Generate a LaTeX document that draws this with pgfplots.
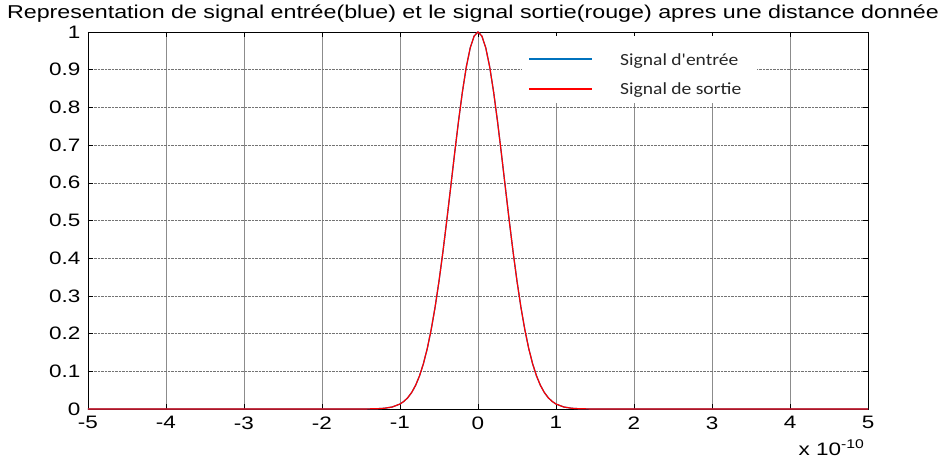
\documentclass[border=0pt]{standalone}
\usepackage{pgfplots}
\pgfplotsset{compat=1.18}
\usepackage{pgfplotstable}
\usepackage{fontspec}
\setmainfont{Liberation Sans}[FakeStretch=1.25]
\newfontfamily\legfont{Carlito}[FakeStretch=1.15]
\definecolor{mblue}{rgb}{0,0.447,0.741}

\pgfplotstableread{
t y
-5 0
-1.5 0
-1.3 0.0007
-1.2 0.0020
-1.1 0.0053
-1.0 0.0132
-0.95 0.0202
-0.9 0.0301
-0.85 0.0439
-0.8 0.0628
-0.75 0.0878
-0.7 0.1201
-0.65 0.1608
-0.6 0.2108
-0.55 0.2703
-0.5 0.3391
-0.45 0.4165
-0.4 0.5006
-0.35 0.5887
-0.3 0.6776
-0.25 0.7632
-0.2 0.8411
-0.15 0.9073
-0.1 0.9577
-0.05 0.9892
0 1
0.05 0.9892
0.1 0.9577
0.15 0.9073
0.2 0.8411
0.25 0.7632
0.3 0.6776
0.35 0.5887
0.4 0.5006
0.45 0.4165
0.5 0.3391
0.55 0.2703
0.6 0.2108
0.65 0.1608
0.7 0.1201
0.75 0.0878
0.8 0.0628
0.85 0.0439
0.9 0.0301
0.95 0.0202
1.0 0.0132
1.1 0.0053
1.2 0.0020
1.3 0.0007
1.5 0
5 0
}\pulse

\begin{document}
\begin{tikzpicture}
\begin{axis}[
  scale only axis, width=780pt, height=377pt,
  xmin=-5, xmax=5, ymin=0, ymax=1,
  clip=false,
  xtick={-5,-4,-3,-2,-1,0,1,2,3,4,5},
  xticklabels={-5,-4,-3,-2,-1,0,1,2,3,4,5},
  ytick={0,0.1,0.2,0.3,0.4,0.5,0.6,0.7,0.8,0.9,1},
  yticklabels={0,0.1,0.2,0.3,0.4,0.5,0.6,0.7,0.8,0.9,1},
  tick align=inside, major tick length=5pt,
  tick style={black, line width=0.6pt},
  tick label style={font=\fontsize{18}{20}\selectfont},
  xticklabel style={yshift=-4pt},
  yticklabel style={xshift=-4pt},
  xmajorgrids, ymajorgrids,
  x grid style={black!45, line width=0.8pt},
  y grid style={black!55, densely dotted, line width=0.6pt},
  axis line style={black, line width=0.8pt},
]
\addplot[color=mblue, line width=1.2pt] table[x=t,y=y] {\pulse};
\addplot[color=red, line width=1.2pt] table[x=t,y=y] {\pulse};
% legend box (decoration)
\fill[white] (axis cs:0.564,0.812) rectangle (axis cs:3.577,0.989);
\draw[mblue, line width=1.3pt] (axis cs:0.654,0.928) -- (axis cs:1.462,0.928);
\draw[red, line width=1.3pt] (axis cs:0.654,0.849) -- (axis cs:1.462,0.849);
\node[anchor=west, inner sep=0pt, text=black!85, font=\legfont\fontsize{17}{20}\selectfont] at (axis cs:1.821,0.924) {Signal d'entrée};
\node[anchor=west, inner sep=0pt, text=black!85, font=\legfont\fontsize{17}{20}\selectfont] at (axis cs:1.821,0.845) {Signal de sortie};
\node[anchor=base, font=\fontsize{18.6}{22}\selectfont] at (rel axis cs:0.5,1) [xshift=-5pt, yshift=13pt] {Representation de signal entrée(blue) et le signal sortie(rouge) apres une distance donnée};
\node[anchor=base east, font=\fontsize{18}{20}\selectfont] at (rel axis cs:1,0) [yshift=-46pt] {x 10\textsuperscript{-10}};
\end{axis}
\pgfresetboundingbox
\path[use as bounding box] ([shift={(-88pt,-52pt)}]current axis.south west) rectangle ([shift={(79pt,32pt)}]current axis.north east);
\end{tikzpicture}
\end{document}
